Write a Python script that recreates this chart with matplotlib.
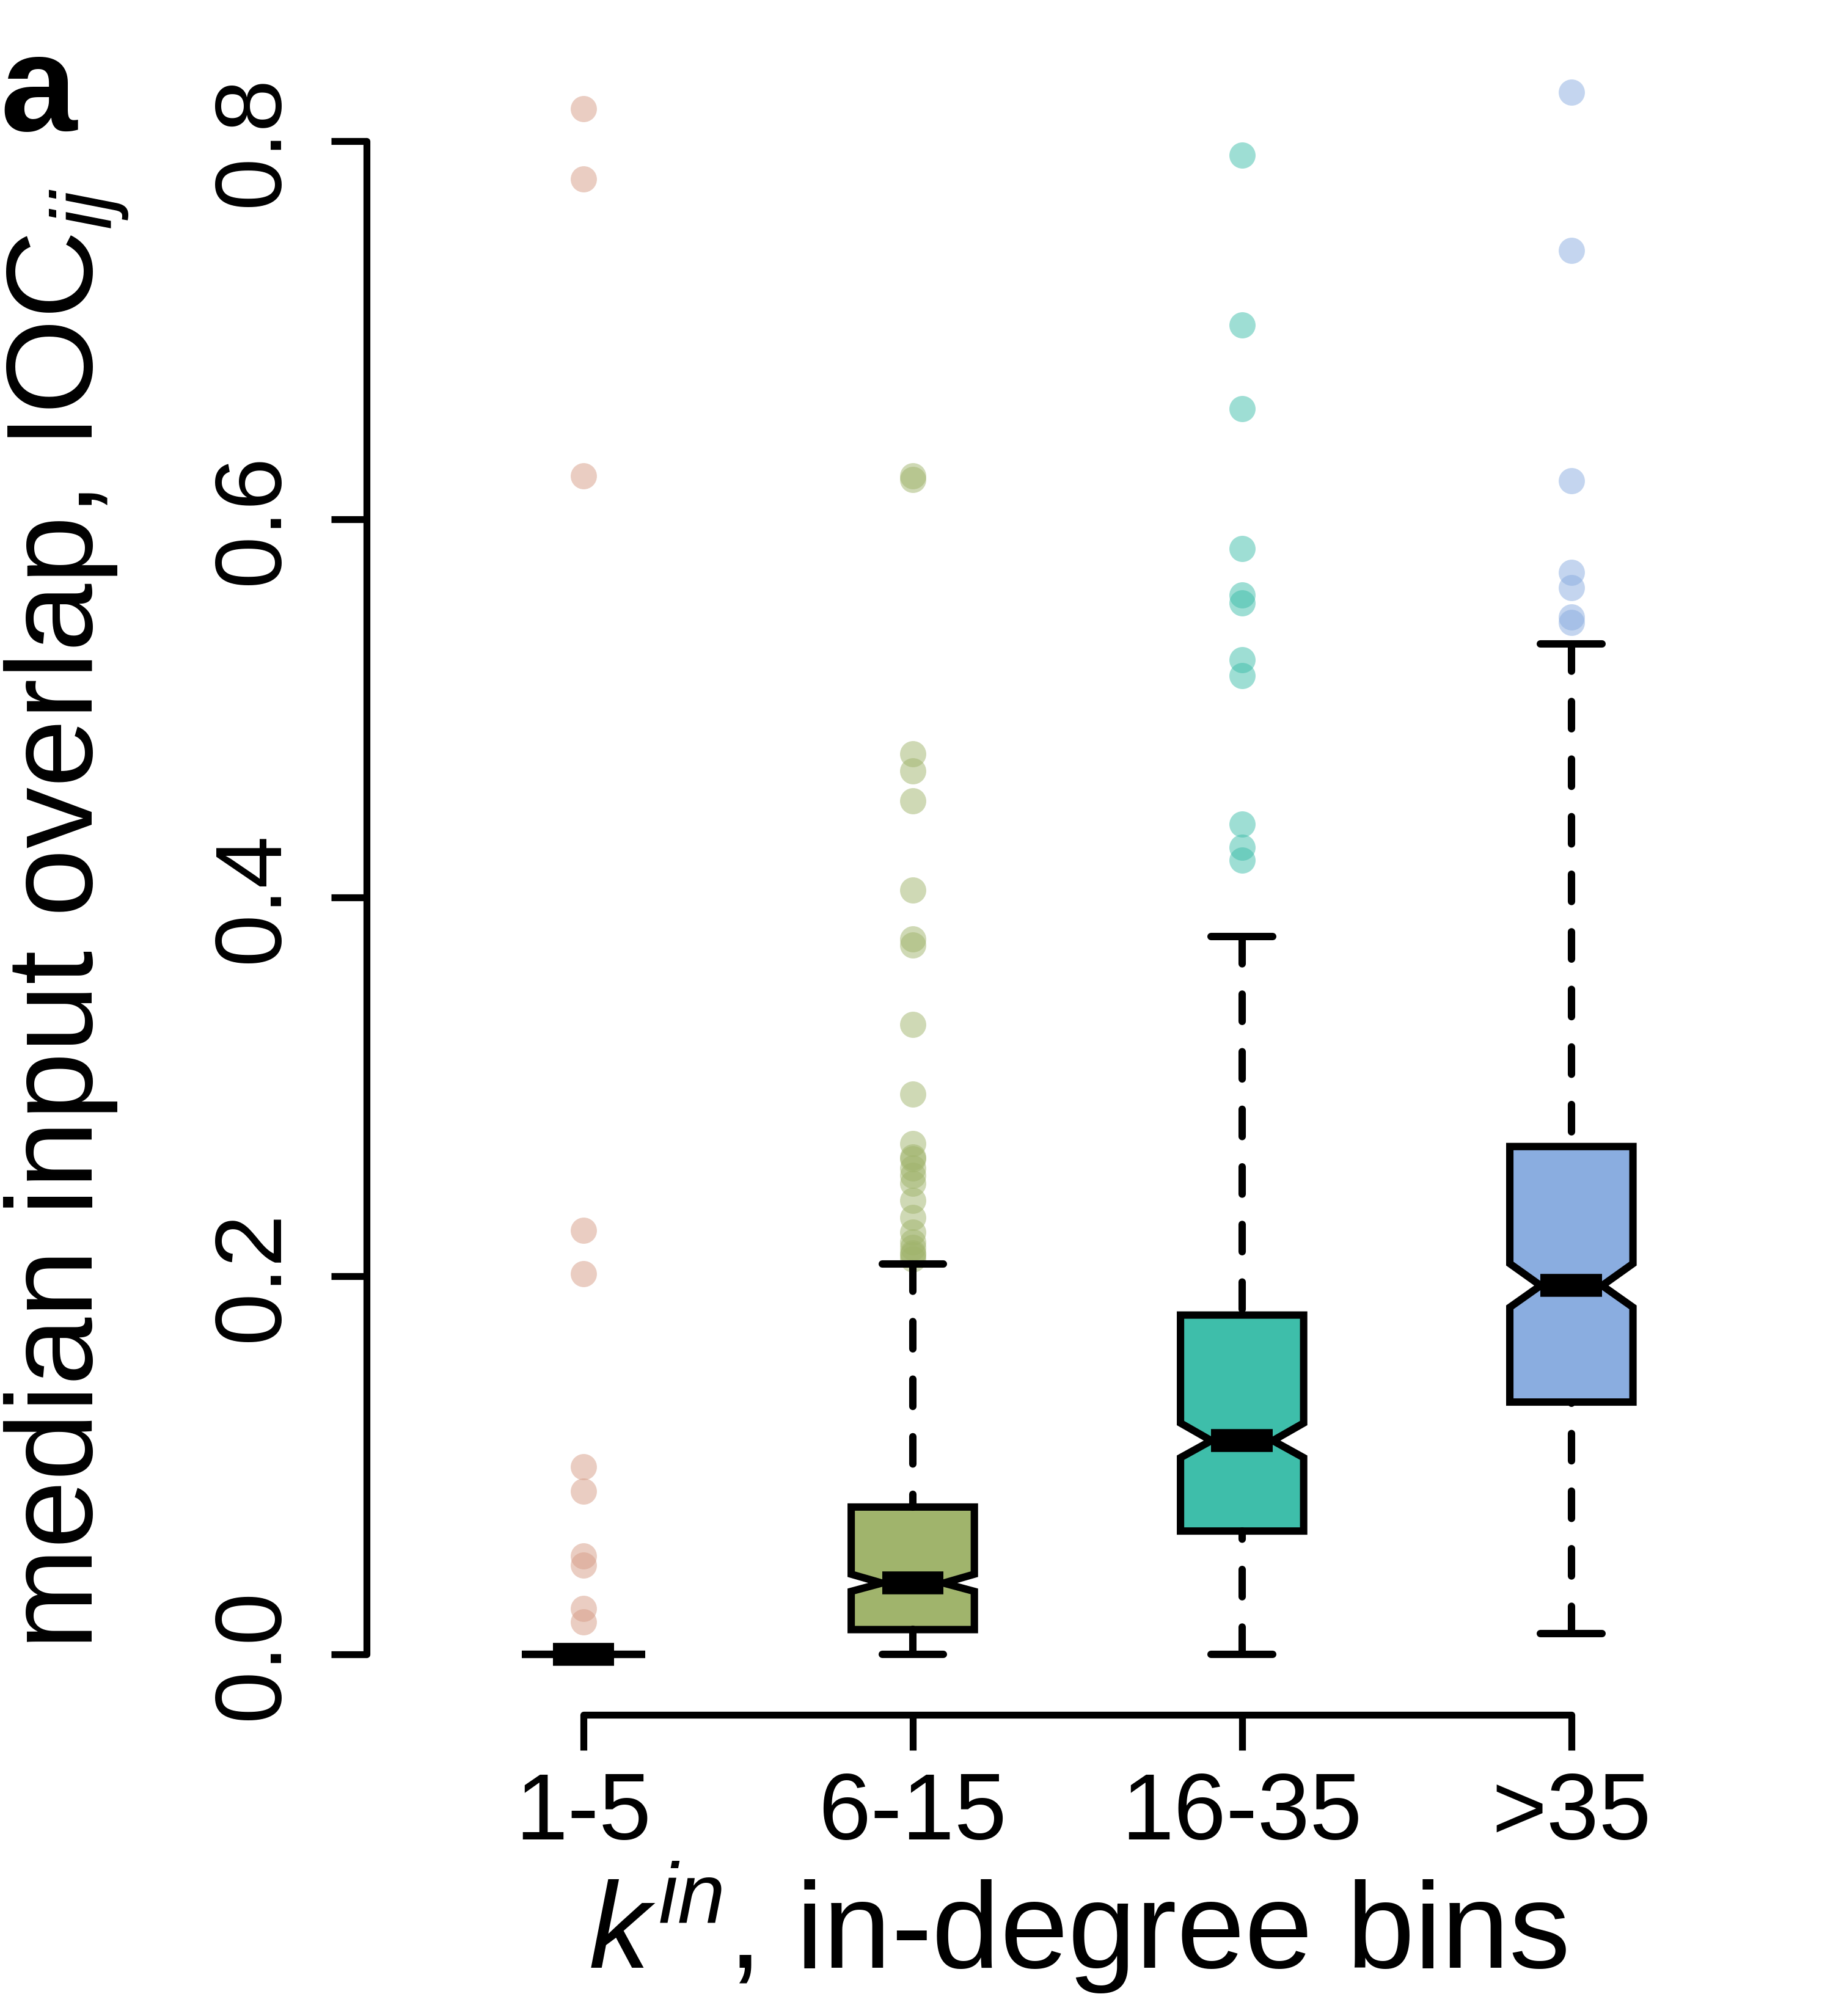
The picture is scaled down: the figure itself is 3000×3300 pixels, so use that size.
import matplotlib
matplotlib.use("Agg")
import matplotlib.pyplot as plt
from matplotlib.colors import to_rgba

plt.rcParams['font.family'] = ['Liberation Sans', 'DejaVu Sans']
plt.rcParams['mathtext.fontset'] = 'custom'
plt.rcParams['mathtext.rm'] = 'Liberation Sans'
plt.rcParams['mathtext.it'] = 'Liberation Sans:italic'
plt.rcParams['mathtext.bf'] = 'Liberation Sans:bold'

# in-degree bins and box colours
bins = ['1-5', '6-15', '16-35', '>35']
box_colors = ['#D79D87', '#A0B46C', '#3EBEAA', '#8AADE0']

# box statistics
q1 = [0.0, 0.0130, 0.0651, 0.1333]
med = [0.0, 0.0376, 0.1129, 0.1949]
q3 = [0.0, 0.0778, 0.1793, 0.2684]
notch_lo = [0.0, 0.0332, 0.1039, 0.1834]
notch_hi = [0.0, 0.0423, 0.1222, 0.2065]
whisk_lo = [0.0, 0.0, 0.0, 0.0109]
whisk_hi = [0.0, 0.2063, 0.3796, 0.5342]

# outliers per bin
out_1 = [0.817, 0.780, 0.623, 0.224, 0.201, 0.099, 0.086, 0.052, 0.047, 0.024, 0.017]
out_2 = [0.623, 0.621, 0.476, 0.467, 0.451, 0.404, 0.378, 0.375, 0.333, 0.296,
         0.270, 0.263, 0.262, 0.257, 0.253, 0.249, 0.240, 0.231, 0.223, 0.218,
         0.215, 0.212, 0.211, 0.209]
out_3 = [0.7925, 0.7027, 0.6585, 0.5847, 0.5600, 0.5557, 0.5258, 0.5175,
         0.4390, 0.4267, 0.4198]
out_4 = [0.8259, 0.7422, 0.6205, 0.5720, 0.5638, 0.5484, 0.5454]
outliers = [out_1, out_2, out_3, out_4]

y_ticks = [0.0, 0.2, 0.4, 0.6, 0.8]
y_tick_labels = ['0.0', '0.2', '0.4', '0.6', '0.8']

stats = []
for i in range(len(bins)):
    stats.append(dict(med=med[i], q1=q1[i], q3=q3[i], whislo=whisk_lo[i],
                      whishi=whisk_hi[i], cilo=notch_lo[i], cihi=notch_hi[i],
                      fliers=outliers[i], label=bins[i]))

fig = plt.figure(figsize=(10, 11), dpi=300)
ax = fig.add_axes([0.2, 0.14939, 0.7471, 0.82752])

lw = 2.7
box_lw = 2.9
bp = ax.bxp(stats, positions=[1, 2, 3, 4], widths=0.374, capwidths=0.187,
            shownotches=True, patch_artist=True,
            boxprops=dict(linewidth=box_lw, edgecolor='black', joinstyle='miter'),
            medianprops=dict(linewidth=9.0, color='black', solid_capstyle='butt'),
            whiskerprops=dict(linewidth=box_lw, color='black',
                              linestyle=(0, (3.7, 4.1)), dash_capstyle='round'),
            capprops=dict(linewidth=box_lw, color='black', solid_capstyle='round'),
            flierprops=dict(marker='o', markersize=10.3, markeredgewidth=0,
                            linestyle='none'))

for patch, c in zip(bp['boxes'], box_colors):
    patch.set_facecolor(c)
for fl, c in zip(bp['fliers'], box_colors):
    fl.set_markerfacecolor(to_rgba(c, 0.5))
    fl.set_zorder(1.5)
# dashes start at the whisker end, as in R
for w in bp['whiskers']:
    x, y = w.get_data()
    w.set_data(x[::-1], y[::-1])

ax.set_xlim(0.3414, 4.5)
ax.set_ylim(-0.03207, 0.85)
for s in ['top', 'right']:
    ax.spines[s].set_visible(False)
ax.spines['left'].set_bounds(0, 0.8)
ax.spines['bottom'].set_bounds(1, 4)
for s in ['left', 'bottom']:
    ax.spines[s].set_linewidth(lw)
    ax.spines[s].set_capstyle('round')

ax.set_xticks([1, 2, 3, 4])
ax.set_xticklabels(bins)
ax.set_yticks(y_ticks)
ax.set_yticklabels(y_tick_labels, rotation=90, va='center')
ax.tick_params(axis='both', length=14, width=lw, direction='out', labelsize=37)
ax.tick_params(axis='y', pad=13)
ax.tick_params(axis='x', pad=8)

fig.text(151 / 3000, 1 - 1505 / 3300, r'median input overlap, IOC$_{ij}$',
         rotation=90, rotation_mode='anchor', ha='center', va='baseline', fontsize=48)
fig.text(1763.5 / 3000, 78 / 3300, r'$k^{in}$, in-degree bins',
         ha='center', va='baseline', fontsize=48)
fig.text(0.0, 0.9353, 'a', fontweight='bold', fontsize=54, ha='left', va='baseline')

fig.savefig('out.png', dpi=300)
